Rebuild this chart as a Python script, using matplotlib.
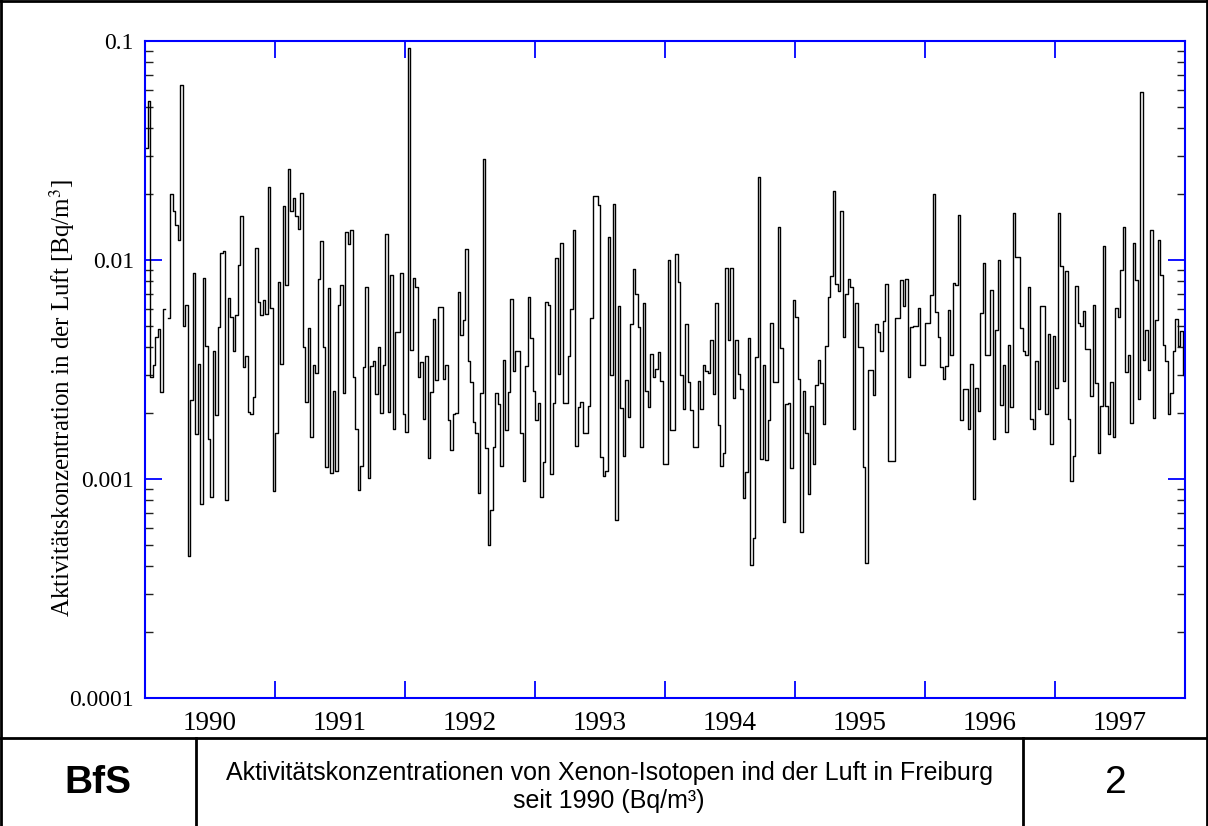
import numpy as np
import matplotlib
matplotlib.use("Agg")
import matplotlib.pyplot as plt
from matplotlib.lines import Line2D
from matplotlib.ticker import FixedLocator, NullFormatter, LogLocator

plt.rcParams['mathtext.fontset'] = 'stix'

nan = float('nan')

# Weekly activity concentrations (Bq/m^3), in sequence
part_1 = [0.0325, 0.0531, 0.00293, 0.0033, 0.00445, 0.00482, 0.0025, 0.00598, nan, 0.00543,
          0.0201, 0.0167, 0.0144, 0.0124, 0.0632, 0.005, 0.00626, 0.000443, 0.00229, 0.00869,
          0.00161, 0.00336, 0.000768, 0.0083, 0.00403, 0.00152, 0.000825, 0.00385, 0.00195, 0.00496,
          0.0108, 0.011, 0.000806, 0.00672, 0.00552, 0.00385, 0.00558, 0.00951, 0.0159, 0.00323,
          0.00363, 0.00202, 0.00198, 0.00236, 0.0113, 0.00646, 0.00562, 0.00655, 0.00568, 0.0215,
          0.00602, 0.000878, 0.00163, 0.00793, 0.00336, 0.0176, 0.00765, 0.0259]
part_2 = [0.0167, 0.0191, 0.0158, 0.0138, 0.0203, 0.00399, 0.00225, 0.0049, 0.00156, 0.00333,
          0.00304, 0.00823, 0.0122, 0.00399, 0.00113, 0.00743, 0.00107, 0.00251, 0.00109, 0.0062,
          0.00765, 0.00247, 0.0134, 0.0118, 0.0137, 0.00291, 0.00169, 0.000895, 0.00115, 0.00323,
          0.00756, 0.00101, 0.00327, 0.00345, 0.00245, 0.00399, 0.002, 0.0033, 0.0132, 0.00202,
          0.00853, 0.00169, 0.0047, 0.0047, 0.00874, 0.00199, 0.00164, 0.093, 0.00388, 0.0083,
          0.00756, 0.00293, 0.00341, 0.00187, 0.00364, 0.00125, 0.0025, 0.00537, 0.00283, 0.00611]
part_3 = [0.00611, 0.00285, 0.0033, 0.00185, 0.00136, 0.00199, 0.002, 0.00712, 0.00453, 0.00531,
          0.0112, 0.00345, 0.00276, 0.00183, 0.00163, 0.000865, 0.00247, 0.029, 0.00138, 0.000498,
          0.000721, 0.0014, 0.00247, 0.0022, 0.00115, 0.00348, 0.00167, 0.0025, 0.00667, 0.0031,
          0.00385, 0.00385, 0.00163, 0.000982, 0.00327, 0.00679, 0.00442, 0.00251, 0.00185, 0.00222,
          0.000825, 0.0012, 0.00646, 0.0062, 0.00105, 0.00222, 0.0102, 0.00302, 0.012, 0.00223,
          0.00223, 0.00364, 0.006, 0.0137, 0.00141, 0.00214, 0.00225, 0.00163, 0.00163, 0.00216]
part_4 = [0.00545, 0.0195, 0.0195, 0.0179, 0.00126, 0.00103, 0.00109, 0.0127, 0.00299, 0.0181,
          0.000652, 0.00616, 0.00212, 0.00127, 0.00283, 0.00191, 0.00509, 0.00909, 0.00698, 0.00492,
          0.0014, 0.00633, 0.00253, 0.00213, 0.00374, 0.00291, 0.00318, 0.00382, 0.0028, 0.00117,
          0.00117, 0.00996, 0.00168, 0.00168, 0.0106, 0.00793, 0.00299, 0.00208, 0.00509, 0.00276,
          0.00206, 0.0014, 0.0014, 0.0028, 0.00209, 0.00331, 0.0031, 0.00304, 0.00433, 0.00245,
          0.00638, 0.00176, 0.00115, 0.00131, 0.00917, 0.0043, 0.00917, 0.00234, 0.0043]
part_5 = [0.00301, 0.00257, 0.000816, 0.00108, 0.00442, 0.000404, 0.000535, 0.00361, 0.024, 0.00123,
          0.00333, 0.00122, 0.00186, 0.00514, 0.00276, 0.00276, 0.0142, 0.00395, 0.000635, 0.0022,
          0.00223, 0.00112, 0.00657, 0.00552, 0.00285, 0.000575, 0.00251, 0.00163, 0.000852, 0.00216,
          0.00117, 0.00268, 0.00351, 0.00273, 0.00178, 0.00406, 0.00675, 0.00845, 0.0206, 0.00779,
          0.00719, 0.0168, 0.00445, 0.00698, 0.00823, 0.00756, 0.00169, 0.00633, 0.00399, 0.00399,
          0.00113, 0.000415, 0.00314, 0.00314, 0.00243, 0.00509, 0.0047, 0.00385, 0.00525, 0.00779]
part_6 = [0.00121, 0.00121, 0.00121, 0.00545, 0.00545, 0.0081, 0.00616, 0.0082, 0.00293, 0.00496,
          0.00502, 0.00502, 0.00604, 0.00331, 0.00331, 0.00518, 0.00518, 0.00689, 0.0201, 0.00578,
          0.00445, 0.00323, 0.00286, 0.00327, 0.00589, 0.00367, 0.00784, 0.00765, 0.016, 0.00186,
          0.00257, 0.00257, 0.00169, 0.00336, 0.00081, 0.00261, 0.00205, 0.00573, 0.00969, 0.00367,
          0.00367, 0.00733, 0.00153, 0.00478, 0.01, 0.00218, 0.0033, 0.00164, 0.00409, 0.00213,
          0.0164, 0.0103, 0.0103, 0.00487, 0.00385, 0.00367, 0.00756, 0.00187, 0.00169, 0.00345]
part_7 = [0.00208, 0.00616, 0.00616, 0.00198, 0.00461, 0.00145, 0.0045, 0.00261, 0.0164, 0.00934,
          0.00281, 0.00891, 0.00188, 0.000979, 0.00127, 0.00759, 0.00514, 0.005, 0.00583, 0.00392,
          0.00392, 0.0024, 0.0062, 0.00275, 0.00132, 0.00216, 0.0116, 0.00216, 0.0016, 0.00278,
          0.00156, 0.00604, 0.00547, 0.00902, 0.0142, 0.00307, 0.0037, 0.00181, 0.012, 0.0081,
          0.00233, 0.0586, 0.00348, 0.00478, 0.00314, 0.0137, 0.00189, 0.00531, 0.0123, 0.00853,
          0.0041, 0.00345, 0.00198, 0.00247, 0.00385, 0.00537, 0.00406, 0.00473, 0.00299, 0.00183]

first_week = 1990.0
weeks_per_year = 52.0

y_ticks = [1e-4, 1e-3, 1e-2, 1e-1]
y_tick_labels = ["0.0001", "0.001", "0.01", "0.1"]
year_labels = ["1990", "1991", "1992", "1993", "1994", "1995", "1996", "1997"]

values = np.array(part_1 + part_2 + part_3 + part_4 + part_5 + part_6 + part_7, dtype=float)
t = first_week + np.arange(len(values)) / weeks_per_year
t_plot = np.append(t, t[-1] + 1 / weeks_per_year)
v_plot = np.append(values, values[-1])

W, H = 1208, 826
fig = plt.figure(figsize=(W / 100, H / 100), dpi=100)
ax = fig.add_axes([145 / W, 1 - 698 / H, 1040 / W, 657 / H])

ax.step(t_plot, v_plot, where='post', color='black', lw=1.0)

ax.set_yscale('log')
ax.set_ylim(1e-4, 1e-1)
ax.set_xlim(1990, 1998)

blue = '#0000ff'
for s in ax.spines.values():
    s.set_color(blue)
    s.set_linewidth(1.5)

serif = 'Liberation Serif'
ax.yaxis.set_major_locator(FixedLocator(y_ticks))
ax.set_yticklabels(y_tick_labels, fontfamily=serif, fontsize=17)
ax.yaxis.set_minor_locator(LogLocator(base=10, subs=np.arange(2, 10)))
ax.yaxis.set_minor_formatter(NullFormatter())
ax.tick_params(axis='y', which='major', direction='in', left=True, right=True,
               length=12, width=1.3, color=blue, pad=8)
ax.tick_params(axis='y', which='minor', direction='in', left=True, right=True,
               length=6, width=1.0, color='#222222')

years = np.arange(1990, 1999)
ax.xaxis.set_major_locator(FixedLocator(years))
ax.xaxis.set_major_formatter(NullFormatter())
centers = np.arange(1990, 1998) + 0.5
ax.xaxis.set_minor_locator(FixedLocator(centers))
ax.set_xticklabels(year_labels, minor=True, fontfamily=serif, fontsize=19.5)
ax.tick_params(axis='x', which='major', direction='in', top=True, bottom=True,
               length=12, width=1.3, color=blue)
ax.tick_params(axis='x', which='minor', length=0, pad=9)

ax.set_ylabel("Aktivitätskonzentration in der Luft [Bq/m$^3$]", fontfamily=serif,
              fontsize=18)
ax.yaxis.set_label_coords((77 - 145) / 1040, (698 - 398) / 657)

# frame and title block
def fline(x0, y0, x1, y1, lw=2.0):
    fig.add_artist(Line2D([x0 / W, x1 / W], [1 - y0 / H, 1 - y1 / H], color='black', lw=lw))

fline(1, 0, 1, H)
fline(0, 1, W, 1)
fline(W - 1.5, 0, W - 1.5, H)
fline(0, 738, W, 738)
fline(196, 738, 196, H)
fline(1023, 738, 1023, H)

sans = 'Liberation Sans'
fig.text(98 / W, 1 - 783 / H, "BfS", fontfamily=sans, fontweight='bold', fontsize=28,
         ha='center', va='center')
fig.text(1116 / W, 1 - 783 / H, "2", fontfamily=sans, fontsize=28, ha='center', va='center')
fig.text(609 / W, 1 - 773 / H, "Aktivitätskonzentrationen von Xenon-Isotopen ind der Luft in Freiburg",
         fontfamily=sans, fontsize=18, ha='center', va='center')
fig.text(609 / W, 1 - 801 / H, "seit 1990 (Bq/m³)", fontfamily=sans, fontsize=18,
         ha='center', va='center')

fig.savefig("out.png", dpi=100)
